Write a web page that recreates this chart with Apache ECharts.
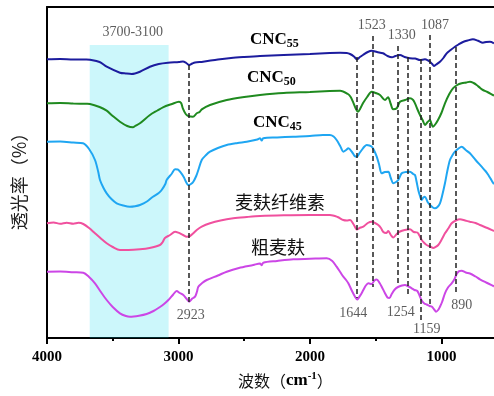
<!DOCTYPE html>
<html><head><meta charset="utf-8">
<script src="https://cdn.jsdelivr.net/npm/echarts@6/dist/echarts.min.js"></script>
<style>html,body{margin:0;padding:0;background:#fff}#c{width:494px;height:396px}</style>
</head><body><div id="c"></div>
<script>
// ---- data (wavenumber cm-1, offset transmittance) ----
const xTicks = [4000, 3000, 2000, 1000];
const xMinorTicks = [3500, 2500, 1500];

const cnc55 = [[4000,278.7],[3900,279],[3800,278.5],[3700,278.5],[3673,278.3],[3600,276],[3546,271.3],[3445,265.3],[3400,264.5],[3356,264],[3293,266.3],[3217,271.3],[3150,274],[3080,275.3],[2996,276],[2966,276.5],[2940,275],[2918,273],[2895,274.5],[2874,275.5],[2813,276.3],[2700,278.5],[2600,280],[2500,281],[2380,282],[2200,283],[2000,284],[1850,285],[1771,285.3],[1720,285],[1695,284],[1665,281.5],[1642,278.7],[1620,281],[1597,283],[1560,286],[1530,287.3],[1490,286],[1444,284.7],[1410,282],[1376,280.7],[1350,282],[1315,283],[1280,281],[1239,279.7],[1200,279.5],[1163,278],[1125,278.7],[1100,277.5],[1087,276.3],[1070,274],[1057,272],[1040,273.5],[1011,276.3],[985,280],[960,284.7],[930,288],[897,291.3],[870,293.5],[836,296],[800,297.5],[760,298.7],[722,297.3],[684,295.3],[660,296],[631,296.3],[600,294.7]];

const cnc50 = [[4000,234.7],[3900,235],[3800,234.5],[3700,234.2],[3673,234],[3600,231],[3546,227.3],[3500,222],[3445,216.3],[3390,212],[3346,210.7],[3330,212],[3293,214.7],[3217,223],[3160,227.5],[3118,230.7],[3050,234],[2996,236.3],[2980,235],[2966,229.3],[2945,224],[2925,222],[2890,221.3],[2861,224.7],[2840,226],[2823,228.7],[2760,233],[2633,238],[2500,241],[2380,243],[2200,245],[2000,246],[1850,247],[1771,247.3],[1711,244],[1690,241],[1673,236.3],[1650,229],[1635,226.3],[1615,230],[1597,234.7],[1565,241],[1530,246.3],[1500,245],[1467,243],[1429,238],[1406,240.7],[1385,234],[1368,228.7],[1340,229.7],[1315,236.3],[1277,238],[1239,239.7],[1215,238],[1201,234.7],[1180,228],[1163,223],[1140,217],[1125,213],[1105,216],[1087,218],[1075,214],[1064,211.3],[1045,214],[1026,218],[1000,225],[973,234.7],[940,244],[912,249.7],[880,253],[846,254.7],[810,255.5],[783,256.3],[755,255],[732,253],[705,250],[684,248],[650,246],[608,243],[600,242.5]];

const cnc45 = [[4000,196.3],[3900,196.5],[3800,195.5],[3726,194.7],[3680,189],[3635,178],[3610,166],[3597,158],[3570,150],[3546,144.7],[3510,139],[3470,134.7],[3420,132.5],[3369,131.3],[3330,131.8],[3293,133],[3240,136.5],[3194,141.3],[3150,145],[3128,148],[3100,154],[3090,158],[3050,164.5],[3026,168.7],[3005,168.5],[2988,166.3],[2960,161],[2940,155.5],[2925,153],[2905,154],[2887,156.3],[2865,162],[2849,168],[2823,178],[2790,183],[2760,186.3],[2700,190],[2633,193],[2550,195],[2481,196.3],[2400,198.5],[2380,199.7],[2367,197.5],[2355,199.8],[2250,200.5],[2129,201.3],[2000,202],[1901,203],[1848,203],[1820,201.5],[1797,198],[1770,192],[1746,186.3],[1725,188],[1708,189.7],[1680,186],[1660,182],[1644,181.3],[1625,184.5],[1606,188],[1585,191.5],[1568,193],[1548,192.5],[1530,191.3],[1510,187],[1492,181.3],[1475,174],[1454,164.7],[1430,166],[1404,166.3],[1385,160],[1366,154.7],[1345,156],[1328,158],[1302,164.7],[1270,166],[1239,166.3],[1215,164],[1201,163],[1190,157],[1176,148],[1163,142],[1150,138],[1137,140.5],[1125,141.3],[1105,136],[1087,133],[1065,130.5],[1049,129.7],[1030,131],[1011,134.7],[995,142],[973,154.7],[955,167],[935,178],[915,183],[897,186.3],[870,189.5],[846,191.3],[815,188],[783,184.7],[740,178],[694,171.3],[665,167],[643,163],[620,158],[605,154.7],[600,154]];

const wheatCellulose = [[4000,114.7],[3950,115.5],[3900,114.2],[3850,115.3],[3800,114.3],[3760,115.2],[3724,114],[3680,110],[3635,104.7],[3590,99.5],[3546,94.7],[3500,91],[3445,88],[3380,88],[3293,88.7],[3220,90],[3141,93],[3120,96],[3103,100],[3064,103],[3026,106.3],[3001,105.3],[2965,103],[2937,101.3],[2912,102],[2885,105],[2861,108],[2823,111.3],[2760,114.7],[2680,117.5],[2583,119.7],[2480,121],[2380,122],[2200,122.7],[2000,123],[1848,123],[1790,121],[1746,118],[1720,117.5],[1695,118],[1670,114],[1650,109.5],[1644,108.5],[1615,110.5],[1594,111.3],[1560,115],[1530,116.3],[1505,115],[1480,113],[1460,110],[1442,106],[1420,105],[1404,107],[1385,103],[1366,100.5],[1340,104],[1315,106.5],[1280,108],[1239,108.7],[1210,106],[1183,105.5],[1165,102],[1150,98],[1130,95],[1112,93],[1085,91.5],[1062,90],[1045,91],[1024,93],[1000,98],[973,104.7],[945,110],[922,114.7],[890,117.5],[859,118.7],[820,117.5],[783,116.3],[740,115],[707,113],[650,110],[605,107.3],[600,107]];

const crudeBran = [[4000,66.3],[3900,66.5],[3800,65.8],[3724,65.3],[3680,61],[3635,54.7],[3590,46],[3546,38],[3500,31],[3445,24.7],[3400,22],[3369,21.3],[3300,22.3],[3242,24],[3190,27],[3141,31],[3110,34],[3077,38],[3040,43.5],[3014,47],[2990,45],[2963,43],[2940,39.5],[2918,36.3],[2895,39.5],[2874,41.3],[2860,46],[2849,51.3],[2820,55],[2785,58],[2700,62.5],[2633,66.3],[2540,70],[2431,73],[2380,74.5],[2367,72.8],[2355,75.3],[2250,77],[2127,78.7],[2000,79.2],[1873,79.7],[1830,77],[1797,71.3],[1770,66],[1746,61.3],[1725,58],[1708,54.7],[1680,47],[1657,41.3],[1640,38.5],[1632,39.7],[1610,44],[1594,48],[1575,52.5],[1556,54.7],[1530,54],[1510,57.5],[1492,58.5],[1470,55],[1454,51.3],[1430,45],[1410,40.5],[1395,40],[1378,44],[1355,48.5],[1330,51],[1300,52.5],[1277,53],[1250,51.5],[1226,49.7],[1205,48],[1183,47],[1165,42],[1150,37.5],[1130,34.5],[1112,33.5],[1090,32],[1074,31.5],[1055,28.5],[1041,26.3],[1025,28],[1011,31.3],[995,36],[973,44.7],[950,50.5],[922,54.7],[900,59],[884,64],[865,66.8],[846,67.3],[815,65.5],[783,64.5],[740,61.5],[707,58.7],[660,55.5],[605,52],[600,51.7]];

const seriesMain = ['CNC', 'CNC', 'CNC', '麦麸纤维素', '粗麦麸'];
const seriesSub = ['55', '50', '45', '', ''];

const peakWN = [2923, 1644, 1523, 1330, 1254, 1159, 1087, 890];
const peakTop = [273, 281, 302, 292, 281, 279, 303, 291];
const peakBottom = [36, 40, 51, 55, 41, 15, 31, 44];
const peakLabelWN = [2907, 1670, 1530, 1302, 1310, 1112, 1049, 846];
const peakLabelV = [23, 25, 313, 303, 26, 9, 313, 33];

const bandRange = [3675, 3075];
const bandTop = 293;
const bandLabel = '3700-3100';
const bandLabelPos = [3348, 306];

// ---- chart ----
const SERIF = 'Liberation Serif';
const CJK = 'Noto Sans CJK SC';
const curves = [cnc55, cnc50, cnc45, wheatCellulose, crudeBran];
const colors = ['#1c1c9e', '#1f8a1f', '#1fa6f2', '#f0509e', '#cc46e6'];
const labelPos = [[250, 40], [247, 78], [253, 123], [235, 202], [251, 247]];

const chart = echarts.init(document.getElementById('c'), null, {renderer: 'canvas'});

const lineSeries = curves.map((d, i) => ({
  type: 'line', name: seriesMain[i] + seriesSub[i], data: d,
  showSymbol: false, smooth: 0.3, silent: true, z: 2,
  lineStyle: {color: colors[i], width: 2}, itemStyle: {color: colors[i]}
}));

const labelData = peakWN.map((w, i) => ({
  value: [peakLabelWN[i], peakLabelV[i]],
  label: {formatter: String(w)}
}));
labelData.push({value: bandLabelPos, label: {formatter: bandLabel}});

const graphics = curves.map((d, i) => {
  const sub = seriesSub[i];
  const isCJK = !sub;
  return {
    type: 'text', x: labelPos[i][0], y: labelPos[i][1], silent: true,
    style: isCJK ? {
      text: seriesMain[i], fontFamily: CJK, fontSize: 18, fill: '#111',
      textAlign: 'left', textVerticalAlign: 'middle'
    } : {
      text: '{a|' + seriesMain[i] + '}{b|' + sub + '}',
      textAlign: 'left', textVerticalAlign: 'middle',
      rich: {
        a: {fontFamily: SERIF, fontWeight: 'bold', fontSize: 17, lineHeight: 20, fill: '#000'},
        b: {fontFamily: SERIF, fontWeight: 'bold', fontSize: 12, lineHeight: 10, verticalAlign: 'bottom', fill: '#000'}
      }
    }
  };
});
graphics.push({
  type: 'text', x: 19, y: 177, rotation: Math.PI / 2, silent: true,
  style: {text: '透光率（%）', fontFamily: CJK, fontSize: 18, fill: '#222',
    textAlign: 'center', textVerticalAlign: 'middle'}
});
graphics.push({
  type: 'text', x: 238, y: 381, silent: true,
  style: {
    text: '{t|波数（}{c|cm}{s|-1}{t|）}', textAlign: 'left', textVerticalAlign: 'middle',
    rich: {
      t: {fontFamily: CJK, fontSize: 16, lineHeight: 20, fill: '#111'},
      c: {fontFamily: SERIF, fontWeight: 'bold', fontSize: 17, lineHeight: 20, fill: '#000'},
      s: {fontFamily: SERIF, fontWeight: 'bold', fontSize: 11, lineHeight: 11, verticalAlign: 'top', fill: '#000'}
    }
  }
});

const axisBase = {type: 'value', min: 600, max: 4000, inverse: true, splitLine: {show: false}};

chart.setOption({
  animation: false,
  backgroundColor: '#fff',
  grid: {left: 47, right: 0, top: 7, bottom: 58, containLabel: false},
  xAxis: [
    Object.assign({}, axisBase, {
      position: 'bottom',
      axisLine: {onZero: false, lineStyle: {color: '#000', width: 2}},
      axisTick: {customValues: xTicks, length: 6, lineStyle: {color: '#000', width: 2}},
      axisLabel: {customValues: xTicks, formatter: v => String(v), margin: 12, fontFamily: SERIF, fontWeight: 'bold', fontSize: 15, color: '#000'}
    }),
    Object.assign({}, axisBase, {
      position: 'bottom',
      axisLine: {show: false, onZero: false},
      axisTick: {customValues: xMinorTicks, length: 3, lineStyle: {color: '#000', width: 2}},
      axisLabel: {show: false}
    }),
    Object.assign({}, axisBase, {
      position: 'top',
      axisLine: {onZero: false, lineStyle: {color: '#000', width: 2}},
      axisTick: {show: false}, axisLabel: {show: false}
    })
  ],
  yAxis: {
    type: 'value', min: 0, max: 331,
    axisLine: {show: true, lineStyle: {color: '#000', width: 2}},
    axisTick: {show: false}, axisLabel: {show: false}, splitLine: {show: false}
  },
  series: lineSeries.concat([
    {
      type: 'line', data: [], silent: true, z: 3,
      markLine: {
        silent: true, symbol: ['none', 'none'], animation: false,
        label: {show: false},
        lineStyle: {type: [5, 3], color: '#222', width: 1.5},
        data: peakWN.map((w, i) => [{coord: [w, peakTop[i]]}, {coord: [w, peakBottom[i]]}])
      }
    },
    {
      type: 'line', data: [], silent: true, z: 5,
      markArea: {
        silent: true, animation: false,
        itemStyle: {color: 'rgba(0,215,235,0.2)'},
        data: [[{xAxis: bandRange[0], yAxis: 0}, {xAxis: bandRange[1], yAxis: bandTop}]]
      }
    },
    {
      type: 'scatter', symbolSize: 0, silent: true, z: 6, data: labelData,
      label: {show: true, position: 'inside', fontFamily: SERIF, fontSize: 14, color: '#333'}
    }
  ]),
  graphic: graphics
});
</script>
</body></html>
